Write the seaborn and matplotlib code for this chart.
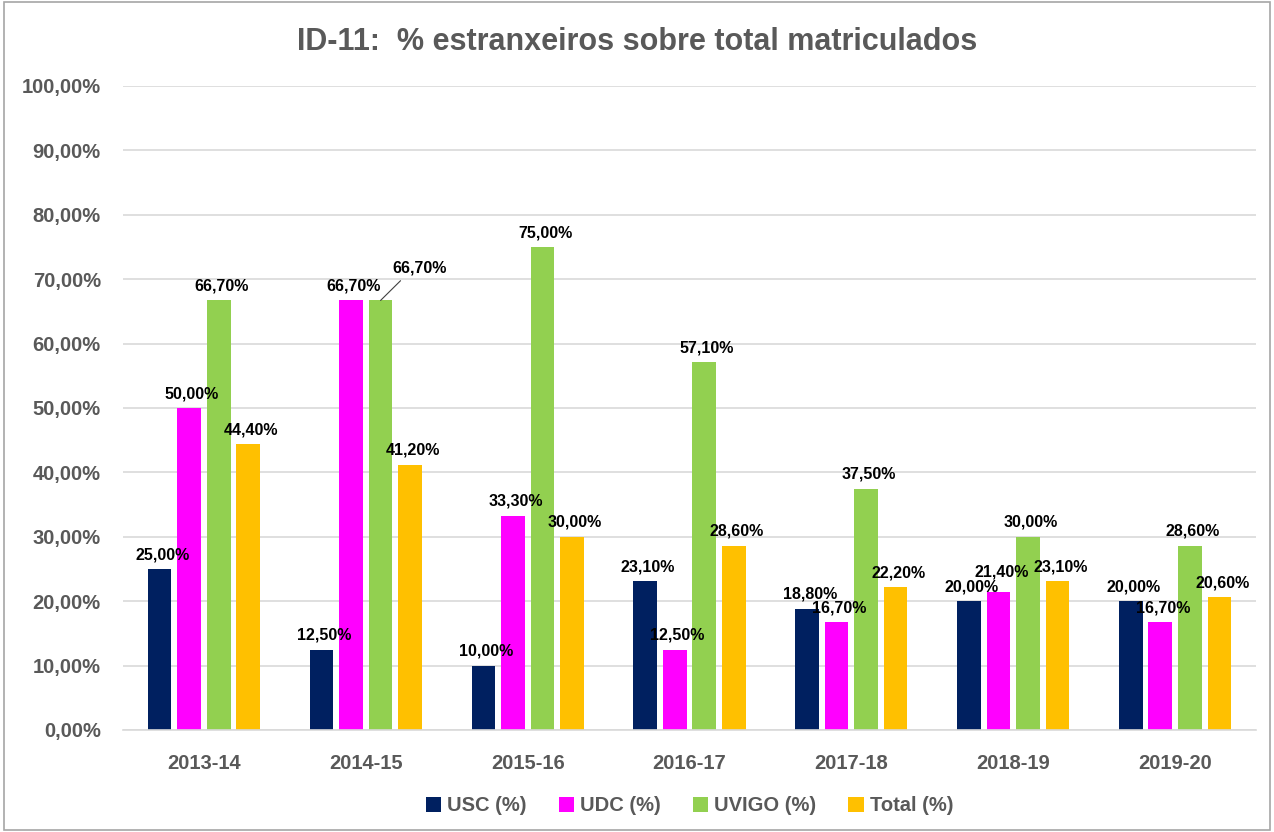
import pandas as pd
import matplotlib
matplotlib.use('Agg')
import matplotlib.pyplot as plt
import seaborn as sns
from matplotlib.patches import Rectangle

# DATA
years = ['2013-14', '2014-15', '2015-16', '2016-17', '2017-18', '2018-19', '2019-20']
usc = [25.0, 12.5, 10.0, 23.1, 18.8, 20.0, 20.0]
udc = [50.0, 66.7, 33.3, 12.5, 16.7, 21.4, 16.7]
uvigo = [66.7, 66.7, 75.0, 57.1, 37.5, 30.0, 28.6]
total = [44.4, 41.2, 30.0, 28.6, 22.2, 23.1, 20.6]
series_names = ['USC (%)', 'UDC (%)', 'UVIGO (%)', 'Total (%)']
colors = ['#002060', '#FF00FF', '#92D050', '#FFC000']

# long format for seaborn
rows = []
for name, vals in zip(series_names, [usc, udc, uvigo, total]):
    for yr, v in zip(years, vals):
        rows.append({'year': yr, 'serie': name, 'value': v})
df = pd.DataFrame(rows)

sns.set_style('white')
plt.rcParams['font.family'] = ['Liberation Sans', 'DejaVu Sans']
plt.rcParams['font.weight'] = 'bold'

fig = plt.figure(figsize=(12.74, 8.32), dpi=100)
ax = fig.add_axes([123 / 1274, 102 / 832, (1256 - 123) / 1274, (730 - 86) / 832])

sns.barplot(data=df, x='year', y='value', hue='serie', hue_order=series_names,
            palette=colors, width=0.73, gap=0.2, errorbar=None,
            saturation=1, linewidth=0, ax=ax)

ax.set_ylim(0, 100)
ax.set_xlim(-0.5, len(years) - 0.5)
ax.set_yticks(range(0, 101, 10))
ax.set_yticklabels([f'{v},00%' for v in range(0, 101, 10)])
ax.yaxis.grid(True, color='#D9D9D9', linewidth=1.2)
ax.set_axisbelow(True)
ax.set_xlabel('')
ax.set_ylabel('')
for s in ['top', 'right', 'left']:
    ax.spines[s].set_visible(False)
ax.spines['bottom'].set_color('#D9D9D9')
ax.spines['bottom'].set_linewidth(1.2)
ax.tick_params(axis='both', length=0, colors='#595959', labelsize=14.5)
ax.tick_params(axis='y', pad=16)
ax.tick_params(axis='x', pad=17)
for lbl in ax.get_xticklabels() + ax.get_yticklabels():
    lbl.set_fontweight('bold')

# data labels
for ci, cont in enumerate(ax.containers):
    for bi, bar in enumerate(cont):
        h = bar.get_height()
        cx = bar.get_x() + bar.get_width() / 2
        txt = f'{h:.2f}%'.replace('.', ',')
        if ci == 2 and bi == 1:
            # 2014-15 UVIGO label moved right with a leader line
            ax.annotate(txt, xy=(cx, h), xytext=(28, 18), textcoords='offset points',
                        ha='center', va='bottom', fontsize=11.5, fontweight='bold',
                        color='black',
                        arrowprops=dict(arrowstyle='-', color='#404040', lw=0.8,
                                        shrinkA=2, shrinkB=0,
                                        relpos=(0.25, 0.0)))
        else:
            dy = 9 if (ci == 1 and bi == 5) else 5
            ax.annotate(txt, xy=(cx, h), xytext=(2, dy), textcoords='offset points',
                        ha='center', va='bottom', fontsize=11.5, fontweight='bold',
                        color='black')

leg = ax.legend(loc='upper center', bbox_to_anchor=(0.5, -0.075), ncol=4,
                frameon=False, fontsize=14.5, handlelength=0.75, handleheight=0.75,
                handletextpad=0.3, columnspacing=1.6)
for t in leg.get_texts():
    t.set_color('#595959')
    t.set_fontweight('bold')

fig.text(0.5, 1 - 42 / 832, 'ID-11:  % estranxeiros sobre total matriculados',
         ha='center', va='center', fontsize=22, fontweight='bold', color='#595959')

# chart border
fig.patches.append(Rectangle((0.003, 0.003), 0.994, 0.994, transform=fig.transFigure,
                             fill=False, edgecolor='#A6A6A6', linewidth=1.2))

fig.savefig('out.png', dpi=100)
